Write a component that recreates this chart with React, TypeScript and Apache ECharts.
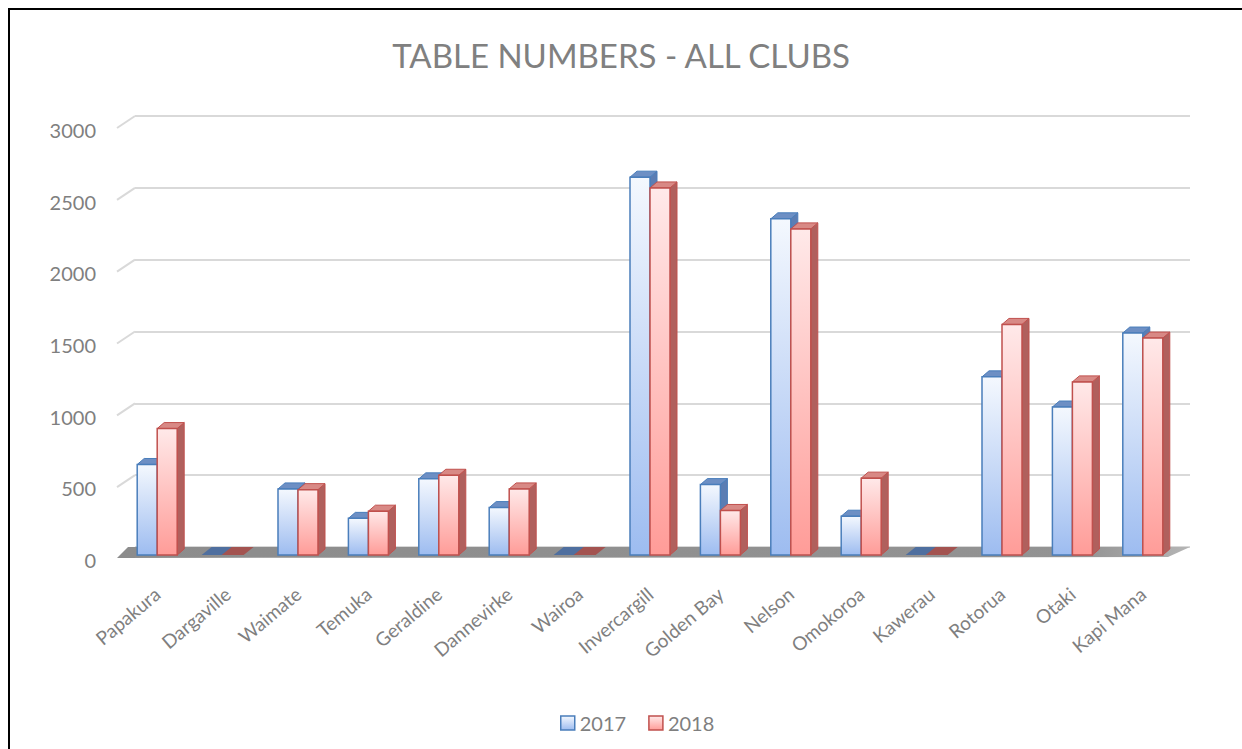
import React, { useEffect, useRef } from "react";
import * as echarts from "echarts";

const categories = [
  "Papakura", "Dargaville", "Waimate", "Temuka", "Geraldine", "Dannevirke", "Wairoa",
  "Invercargill", "Golden Bay", "Nelson", "Omokoroa", "Kawerau", "Rotorua", "Otaki", "Kapi Mana",
];
const values2017 = [630, 0, 460, 255, 530, 330, 0, 2630, 490, 2340, 270, 0, 1240, 1030, 1545];
const values2018 = [880, 0, 455, 305, 555, 460, 0, 2555, 310, 2270, 535, 0, 1605, 1205, 1510];
const yTickValues = [0, 500, 1000, 1500, 2000, 2500, 3000];
const seriesNames = ["2017", "2018"];

const FONT = "Lato";
const TEXT = "#7f7f7f";

const palettes = [
  {
    front: new echarts.graphic.LinearGradient(0, 0, 0, 1, [
      { offset: 0, color: "#f4f8fe" },
      { offset: 1, color: "#9dbcf0" },
    ]),
    stroke: "#4a7ebb",
    side: "#5b7db3",
    top: "#6d8fc4",
    flat: "#4f6f9f",
  },
  {
    front: new echarts.graphic.LinearGradient(0, 0, 0, 1, [
      { offset: 0, color: "#ffe9e9" },
      { offset: 1, color: "#ff9c98" },
    ]),
    stroke: "#c0504d",
    side: "#b0605d",
    top: "#d88985",
    flat: "#a35350",
  },
];

function makeBarRender(si: number) {
  const pal = palettes[si];
  return (params: any, api: any) => {
    const idx = api.value(0);
    const val = api.value(1);
    const base = api.coord([idx, 0]);
    const topPt = api.coord([idx, val]);
    const w = 20;
    const x = si === 0 ? base[0] - 20 : base[0];
    const yb = base[1];
    const yt = topPt[1];
    const dx = 7;
    const dy = 6;
    const children: any[] = [];
    if (yb - yt > 1) {
      children.push({
        type: "polygon",
        shape: { points: [[x + w, yt], [x + w + dx, yt - dy], [x + w + dx, yb - dy], [x + w, yb]] },
        style: { fill: pal.side, stroke: pal.stroke, lineWidth: 1 },
      });
      children.push({
        type: "polygon",
        shape: { points: [[x, yt], [x + dx, yt - dy], [x + w + dx, yt - dy], [x + w, yt]] },
        style: { fill: pal.top, stroke: pal.stroke, lineWidth: 1 },
      });
      children.push({
        type: "rect",
        shape: { x, y: yt, width: w, height: yb - yt },
        style: { fill: pal.front, stroke: pal.stroke, lineWidth: 1.5 },
      });
    } else {
      children.push({
        type: "polygon",
        shape: { points: [[x - 6, yb], [x + 4, yb - 8], [x + w + 6, yb - 8], [x + w - 4, yb]] },
        style: { fill: pal.flat },
      });
    }
    return { type: "group", children };
  };
}

export default function App() {
  const ref = useRef<HTMLDivElement>(null);
  useEffect(() => {
    document.body.style.margin = "0";
    document.body.style.overflow = "hidden";
    const chart = echarts.init(ref.current!, null, { renderer: "svg" });
    const hiddenCat = (gridIndex: number) => ({
      type: "category",
      gridIndex,
      data: categories,
      show: false,
    });
    const hiddenVal = (gridIndex: number) => ({
      type: "value",
      gridIndex,
      min: 0,
      max: 3000,
      interval: 500,
      show: false,
    });
    const option: any = {
      animation: false,
      backgroundColor: "#ffffff",
      title: {
        text: "TABLE NUMBERS - ALL CLUBS",
        left: "center",
        top: 33,
        textStyle: { fontFamily: FONT, fontSize: 33, fontWeight: "normal", color: "#808080" },
      },
      legend: {
        left: 555,
        top: 708,
        itemWidth: 14,
        itemHeight: 14,
        itemGap: 22,
        textStyle: { fontFamily: FONT, fontSize: 20, color: TEXT },
        data: [
          { name: seriesNames[0], icon: "rect", itemStyle: { color: palettes[0].front, borderColor: palettes[0].stroke, borderWidth: 1.5 } },
          { name: seriesNames[1], icon: "rect", itemStyle: { color: palettes[1].front, borderColor: palettes[1].stroke, borderWidth: 1.5 } },
        ],
      },
      grid: [
        { left: 122, right: 64, top: 124, bottom: 194 },
        { left: 135, right: 52, top: 116, bottom: 202 },
        { left: 122, right: 64, top: 124, bottom: 194 },
        { left: 104, right: 64, top: 130, bottom: 189 },
      ],
      xAxis: [
        hiddenCat(0),
        hiddenCat(1),
        {
          type: "category",
          gridIndex: 2,
          data: categories,
          axisLine: { show: false },
          axisTick: { show: false },
          axisLabel: { rotate: 40, margin: 36, fontFamily: FONT, fontSize: 19, color: TEXT, interval: 0 },
        },
        hiddenCat(3),
      ],
      yAxis: [
        hiddenVal(0),
        {
          type: "value",
          gridIndex: 1,
          min: 0,
          max: 3000,
          interval: 500,
          axisLabel: { show: false },
          axisLine: { show: false },
          axisTick: { show: false },
          splitLine: { show: true, lineStyle: { color: "#d9d9d9", width: 2 } },
        },
        hiddenVal(2),
        {
          type: "value",
          gridIndex: 3,
          min: 0,
          max: 3000,
          interval: 500,
          axisLine: { show: false },
          axisTick: { show: false },
          splitLine: { show: false },
          axisLabel: {
            margin: 8,
            fontFamily: FONT,
            fontSize: 20,
            color: TEXT,
            formatter: (v: number) => String(v),
          },
        },
      ],
      graphic: [
        { type: "line", shape: { x1: 8, y1: 9, x2: 1242, y2: 9 }, style: { stroke: "#000", lineWidth: 2 } },
        { type: "line", shape: { x1: 9, y1: 8, x2: 9, y2: 749 }, style: { stroke: "#000", lineWidth: 2 } },
      ],
      series: [
        {
          type: "custom",
          name: "wallDiag",
          xAxisIndex: 1,
          yAxisIndex: 1,
          silent: true,
          z: 1,
          data: yTickValues.slice(1).map((v) => [0, v]),
          renderItem: (params: any, api: any) => {
            const cs = params.coordSys;
            const y = api.coord([0, api.value(1)])[1];
            return {
              type: "line",
              shape: { x1: cs.x - 18, y1: y + 12, x2: cs.x, y2: y },
              style: { stroke: "#d9d9d9", lineWidth: 2 },
            };
          },
        },
        {
          type: "custom",
          name: "floor",
          xAxisIndex: 0,
          yAxisIndex: 0,
          silent: true,
          z: 2,
          data: [[0, 0]],
          renderItem: (params: any) => {
            const cs = params.coordSys;
            const yb = cs.y + cs.height;
            const xr = cs.x + cs.width;
            return {
              type: "polygon",
              shape: {
                points: [
                  [cs.x - 5, yb + 3],
                  [xr - 10, yb + 2],
                  [xr + 12, yb - 8],
                  [cs.x + 6, yb - 8],
                ],
              },
              style: {
                fill: new echarts.graphic.LinearGradient(0, 0, 1, 0, [
                  { offset: 0, color: "#8c8c8c" },
                  { offset: 0.9, color: "#939393" },
                  { offset: 1, color: "#b5b5b5" },
                ]),
              },
            };
          },
        },
        {
          type: "custom",
          name: seriesNames[0],
          xAxisIndex: 0,
          yAxisIndex: 0,
          z: 3,
          itemStyle: { color: "#9dbcf0" },
          data: values2017.map((v, i) => [i, v]),
          renderItem: makeBarRender(0),
        },
        {
          type: "custom",
          name: seriesNames[1],
          xAxisIndex: 0,
          yAxisIndex: 0,
          z: 4,
          itemStyle: { color: "#ff9c98" },
          data: values2018.map((v, i) => [i, v]),
          renderItem: makeBarRender(1),
        },
      ],
    };
    chart.setOption(option);
    return () => chart.dispose();
  }, []);
  return <div ref={ref} style={{ width: 1242, height: 749 }} />;
}
